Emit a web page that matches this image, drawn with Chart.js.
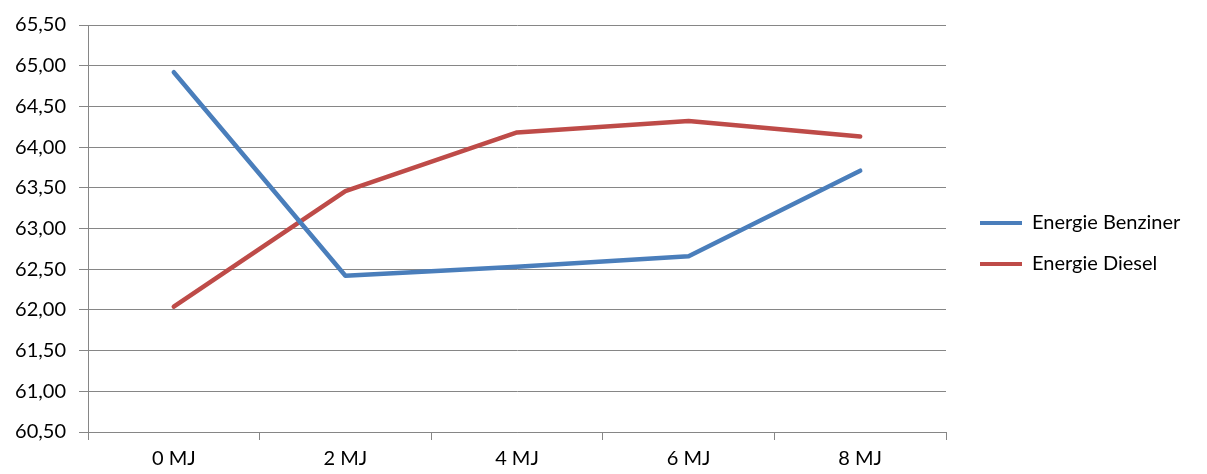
<!DOCTYPE html>
<html><head><meta charset="utf-8">
<script src="https://cdn.jsdelivr.net/npm/chart.js@4.4.0/dist/chart.umd.min.js"></script>
<style>html,body{margin:0;padding:0;background:#fff;overflow:hidden}#wrap{width:1207px;height:474px;position:relative}</style>
</head><body><div id="wrap"><canvas id="c" width="1207" height="474"></canvas></div>
<script>
const categories = ['0 MJ', '2 MJ', '4 MJ', '6 MJ', '8 MJ'];
const seriesNames = ['Energie Benziner', 'Energie Diesel'];
const benzinerValues = [64.92, 62.42, 62.53, 62.66, 63.71];
const dieselValues = [62.04, 63.46, 64.18, 64.32, 64.13];
const yTickValues = [60.5, 61, 61.5, 62, 62.5, 63, 63.5, 64, 64.5, 65, 65.5];

const FONT = {family: 'Lato', size: 20};
const GRID = '#868686';
const BLUE = '#4A7EBB';
const RED = '#BE4B48';

const legendPlacement = {
  id: 'legendPlacement',
  beforeLayout(chart) {
    const lg = chart.legend;
    if (lg && !lg._patched) {
      const f = lg.fit;
      lg.fit = function () { f.call(this); this.width = 261; };
      lg._patched = true;
    }
  },
  afterLayout(chart) {
    const lg = chart.legend;
    if (!lg) return;
    const pad = 21;
    const dx = 980 - pad - lg.left;
    lg.left += dx; lg.right += dx;
    const dy = 223 - 10 - pad - lg.top;
    lg.top += dy; lg.bottom += dy;
  }
};

new Chart(document.getElementById('c'), {
  type: 'line',
  data: {
    labels: categories,
    datasets: [
      {label: seriesNames[0], data: benzinerValues, borderColor: BLUE, backgroundColor: BLUE,
       borderWidth: 4.5, pointRadius: 0, tension: 0, borderJoinStyle: 'round', borderCapStyle: 'round'},
      {label: seriesNames[1], data: dieselValues, borderColor: RED, backgroundColor: RED,
       borderWidth: 4.5, pointRadius: 0, tension: 0, borderJoinStyle: 'round', borderCapStyle: 'round'}
    ]
  },
  options: {
    responsive: false,
    animation: false,
    devicePixelRatio: 1,
    layout: {padding: {top: 23, left: 0, right: 0, bottom: 0}},
    plugins: {
      tooltip: {enabled: false},
      legend: {
        position: 'right',
        align: 'start',
        labels: {
          font: FONT, color: '#000', boxWidth: 42, boxHeight: 4, padding: 21,
          generateLabels(chart) {
            const items = Chart.defaults.plugins.legend.labels.generateLabels(chart);
            items.forEach(i => { i.lineWidth = 0; i.fillStyle = i.strokeStyle; });
            return items;
          }
        }
      }
    },
    scales: {
      x: {
        offset: true,
        grid: {offset: true, drawOnChartArea: false, drawTicks: true, tickLength: 8, color: GRID},
        border: {display: true, color: GRID},
        ticks: {font: FONT, color: '#000', padding: 7, maxRotation: 0},
        afterFit(s) { s.height = 42; }
      },
      y: {
        min: 60.5, max: 65.5,
        afterBuildTicks(s) { s.ticks = yTickValues.map(v => ({value: v})); },
        grid: {color: GRID, tickLength: 9, drawTicks: true},
        border: {display: true, color: GRID},
        ticks: {font: FONT, color: '#000', padding: 13,
                callback: v => Number(v).toFixed(2).replace('.', ',')},
        afterFit(s) { s.width = 88; }
      }
    }
  },
  plugins: [legendPlacement]
});
</script></body></html>
